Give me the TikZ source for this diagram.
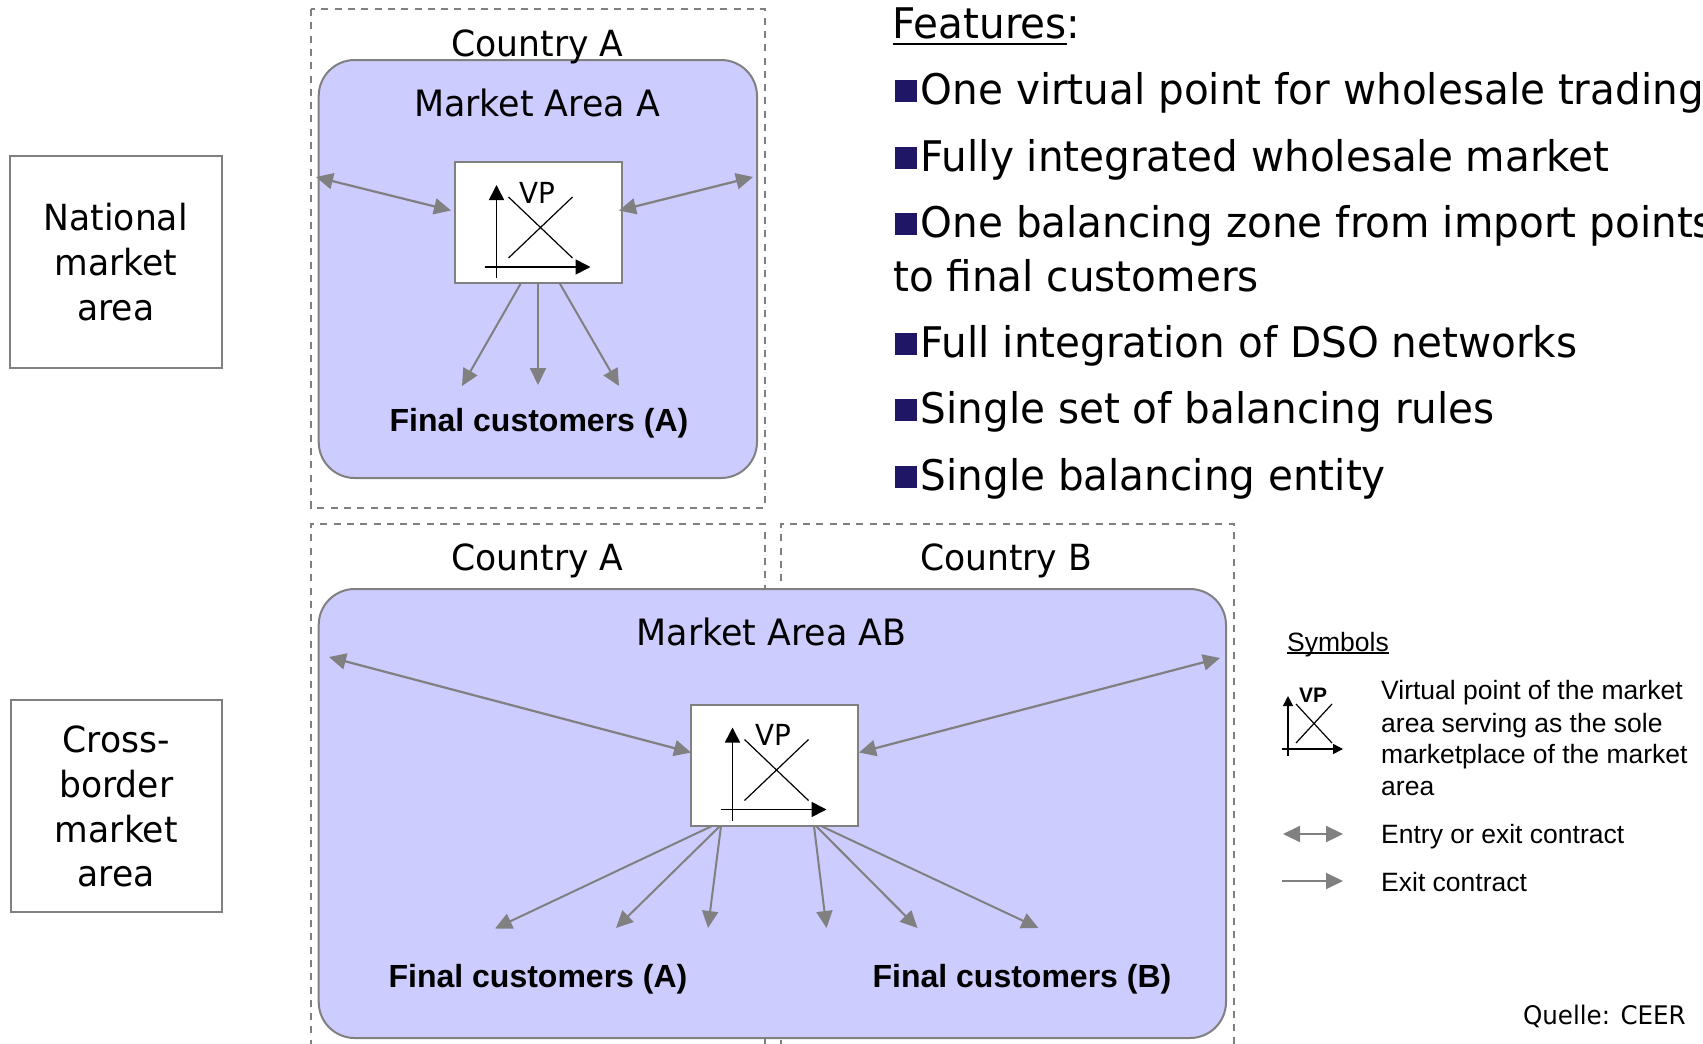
\documentclass[tikz,border=0pt]{standalone}
\usepackage{fontspec}
\setmainfont[FakeStretch=0.96]{DejaVu Sans}
\newfontfamily\arialf{Liberation Sans}
\usetikzlibrary{arrows.meta}
\definecolor{areafill}{HTML}{CCCCFF}
\definecolor{linegray}{HTML}{808080}
\definecolor{bulletblue}{HTML}{1F1766}
\newcommand\myul[3]{\setbox0=\hbox{#1}\rlap{\raisebox{-#2pt}{\rule{\wd0}{#3pt}}}\box0}
\tikzset{
  x=1pt,y=-1pt,
  labelbox/.style={draw=linegray,line width=2pt,fill=white,minimum width=212pt,minimum height=212pt,inner sep=0pt,outer sep=0pt,align=center,font=\fontsize{36}{44.7}\selectfont},
  dashbox/.style={draw=linegray,line width=2pt,dash pattern=on 7pt off 6.3pt},
  areabox/.style={draw=linegray,line width=2pt,fill=areafill,rounded corners=36pt},
  vpbox/.style={draw=linegray,line width=2pt,fill=white,minimum width=167pt,minimum height=121pt,inner sep=0pt,outer sep=0pt},
  countrytext/.style={anchor=base,inner sep=0pt,font=\fontsize{36}{40}\selectfont},
  areatext/.style={anchor=base,inner sep=0pt,font=\fontsize{36.3}{40}\selectfont},
  finaltext/.style={anchor=base,inner sep=0pt,font=\arialf\bfseries\fontsize{32}{36}\selectfont},
  feattext/.style={anchor=base west,inner sep=0pt,font=\fontsize{42.2}{48}\selectfont},
  legtext/.style={anchor=base west,inner sep=0pt,font=\arialf\fontsize{26.5}{32}\selectfont},
  bulletsq/.style={fill=bulletblue,draw=none,minimum width=22pt,minimum height=22pt,inner sep=0pt,outer sep=0pt,anchor=north west},
  conn/.style={draw=linegray,line width=2pt,-{Triangle[length=17pt,width=16pt]}},
  conntwo/.style={draw=linegray,line width=2.2pt,{Triangle[length=17pt,width=16pt]}-{Triangle[length=17pt,width=16pt]}},
  axis/.style={draw=black,line width=1.6pt,-{Triangle[length=15pt,width=15pt]}},
  cross/.style={draw=black,line width=1.2pt},
  pics/vpicon/.style={code={
    \draw[axis] (-42,55) -- (-42,-38);
    \draw[axis] (-54,44) -- (52,44);
    \draw[cross] (-30,-26) -- (34,35);
    \draw[cross] (-30,35) -- (34,-26);
    \node[anchor=base,inner sep=0pt,font=\fontsize{29}{32}\selectfont] (-vp) at (-1.5,-20) {VP};
  }}
}
\begin{document}
\begin{tikzpicture}
\clip (0,0) rectangle (1703,1044);
\fill[white] (0,0) rectangle (1703,1044);
% left labels
\node[labelbox] (nat) at (115.7,262) {National\\market\\area};
\node[labelbox,minimum width=211pt] (crb) at (116.3,805.5) {\rule{0pt}{29pt}Cross-\\border\\market\\area};
% dashed country boxes
\draw[dashbox] (311,9) rectangle (765,508);
\draw[dashbox] (311,1060) -- (311,524) -- (765,524) -- (765,1060);
\draw[dashbox] (780.5,1060) -- (780.5,524) -- (1234,524) -- (1234,1060);
% market areas
\draw[areabox] (318.7,60) rectangle (757,478);
\draw[areabox] (318.7,589) rectangle (1226,1038);
% country / area captions
\node[countrytext] (ca1) at (537.5,56) {Country A};
\node[areatext] (ma1) at (537,116) {Market Area A};
\node[countrytext] (ca2) at (537.5,570) {Country A};
\node[countrytext] (cb2) at (1006,570) {Country B};
\node[areatext] (ma2) at (771.5,645.5) {Market Area AB};
\node[finaltext] (fa1) at (539,431) {Final customers (A)};
\node[finaltext] (fa2) at (538,987) {Final customers (A)};
\node[finaltext] (fb2) at (1022,987) {Final customers (B)};
% VP boxes
\node[vpbox] (vp1) at (538.5,222.5) {};
\node[vpbox] (vp2) at (774.5,765.5) {};
\pic (icona) at (538.5,223) {vpicon};
\pic (iconb) at (774.5,765.5) {vpicon};
% free ends
\coordinate (e1l) at (316,177);
\coordinate (e1r) at (753,177);
\coordinate (c11) at (462,386);
\coordinate (c12) at (538,385);
\coordinate (c13) at (619,386);
\coordinate (e2l) at (329,657);
\coordinate (e2r) at (1220,658);
\coordinate (c21) at (495,928.5);
\coordinate (c22) at (616,928);
\coordinate (c23) at (708,928);
\coordinate (c24) at (826.5,928);
\coordinate (c25) at (917.5,928);
\coordinate (c26) at (1038.5,928);
% connectors upper
\draw[conntwo] (e1l) -- ([shift={(-4,-12)}]vp1.west);
\draw[conntwo] (e1r) -- ([shift={(-3,-12)}]vp1.east);
\draw[conn] ([xshift=-17.5pt]vp1.south) -- (c11);
\draw[conn] ([xshift=-0.5pt]vp1.south) -- (c12);
\draw[conn] ([xshift=21pt]vp1.south) -- (c13);
% connectors lower
\draw[conntwo] (e2l) -- ([shift={(0,-13)}]vp2.west);
\draw[conntwo] (e2r) -- ([shift={(1,-13)}]vp2.east);
\draw[conn] ([xshift=-62.5pt]vp2.south) -- (c21);
\draw[conn] ([xshift=-54.5pt]vp2.south) -- (c22);
\draw[conn] ([xshift=-53.5pt]vp2.south) -- (c23);
\draw[conn] ([xshift=39.5pt]vp2.south) -- (c24);
\draw[conn] ([xshift=41.5pt]vp2.south) -- (c25);
\draw[conn] ([xshift=46.5pt]vp2.south) -- (c26);
% features
\node[feattext] (f0) at (892.5,38.5) {\myul{Features}{6}{1.6}:};
\node[bulletsq] (b1) at (895,80) {};
\node[feattext] (f1) at (920.5,104.5) {One virtual point for wholesale trading};
\node[bulletsq] (b2) at (895,147) {};
\node[feattext] (f2) at (920.5,171) {Fully integrated wholesale market};
\node[bulletsq] (b3) at (895,213) {};
\node[feattext] (f3) at (920.5,237.5) {One balancing zone from import points};
\node[feattext] (f3b) at (893,291.5) {to final customers};
\node[bulletsq] (b4) at (895,333) {};
\node[feattext] (f4) at (920.5,357.5) {Full integration of DSO networks};
\node[bulletsq] (b5) at (895,399) {};
\node[feattext] (f5) at (920.5,423.5) {Single set of balancing rules};
\node[bulletsq] (b6) at (895,466) {};
\node[feattext] (f6) at (920.5,490.5) {Single balancing entity};
% legend
\node[legtext] (sym) at (1287,651) {\myul{Symbols}{2.5}{1.4}};
\draw[axis,line width=1.5pt,-{Triangle[length=10pt,width=10pt]}] (1288,756) -- (1288,696);
\draw[axis,line width=1.5pt,-{Triangle[length=10pt,width=10pt]}] (1282,749) -- (1343,749);
\draw[cross] (1296,704) -- (1332,743);
\draw[cross] (1296,743) -- (1332,704);
\node[anchor=base,inner sep=0pt,font=\arialf\bfseries\fontsize{21}{24}\selectfont] (lvp) at (1313,702) {VP};
\node[legtext] (l1) at (1381,699) {Virtual point of the market};
\node[legtext] (l2) at (1381,732) {area serving as the sole};
\node[legtext] (l3) at (1381,763.5) {marketplace of the market};
\node[legtext] (l4) at (1381,795) {area};
\coordinate (ld1) at (1283,834);
\coordinate (ld2) at (1343,834);
\coordinate (ls1) at (1282,881);
\coordinate (ls2) at (1343,881);
\draw[conntwo] (ld1) -- (ld2);
\draw[conn] (ls1) -- (ls2);
\node[legtext] (l5) at (1381,843) {Entry or exit contract};
\node[legtext] (l6) at (1381,891) {Exit contract};
\node[anchor=base east,inner sep=0pt,font=\fontsize{25.6}{28}\selectfont] (src) at (1686,1024) {Quelle: CEER};
\end{tikzpicture}
\end{document}
